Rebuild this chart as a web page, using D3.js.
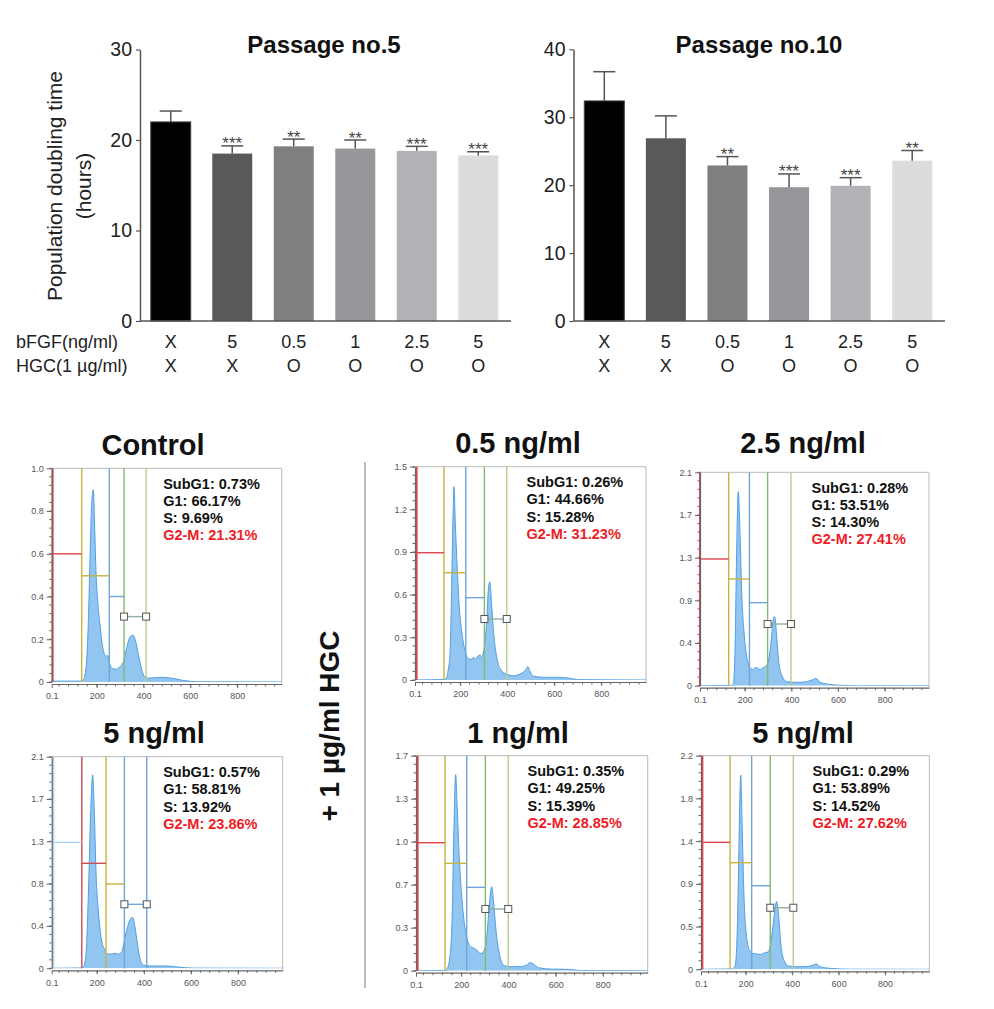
<!DOCTYPE html>
<html><head><meta charset="utf-8">
<script src="https://cdn.jsdelivr.net/npm/d3@7"></script>
<style>
body{margin:0;background:#fff;}
svg{display:block;}
text{font-family:"Liberation Sans",Arial,Helvetica,sans-serif;}
</style>
</head><body>
<svg id="c" width="994" height="1009"></svg>
<script>
// ---------------- DATA ----------------
const bfgfLabels = ["X", "5", "0.5", "1", "2.5", "5"];
const hgcLabels  = ["X", "X", "O", "O", "O", "O"];
const barColors  = ["#000000", "#595959", "#7f7f7f", "#97979b", "#b2b2b6", "#dcdcdc"];

const p5Values = [22.0, 18.5, 19.3, 19.05, 18.8, 18.3];
const p5Errors = [1.2, 0.85, 0.8, 0.95, 0.5, 0.4];
const p5Stars  = ["", "***", "**", "**", "***", "***"];
const p5Ticks  = [0, 10, 20, 30];

const p10Values = [32.4, 26.9, 22.9, 19.7, 19.9, 23.6];
const p10Errors = [4.3, 3.3, 1.3, 1.95, 1.2, 1.5];
const p10Stars  = ["", "", "**", "***", "***", "**"];
const p10Ticks  = [0, 10, 20, 30, 40];

const histTitles = ["Control", "0.5 ng/ml", "2.5 ng/ml", "5 ng/ml", "1 ng/ml", "5 ng/ml"];
const histMax = [1.0, 1.5, 2.1, 2.1, 1.7, 2.2];
const histYLabels = [
  ["0","0.2","0.4","0.6","0.8","1.0"],
  ["0","0.3","0.6","0.9","1.2","1.5"],
  ["0","0.4","0.9","1.3","1.7","2.1"],
  ["0","0.4","0.8","1.3","1.7","2.1"],
  ["0","0.3","0.7","1.0","1.3","1.7"],
  ["0","0.5","0.9","1.4","1.8","2.2"]
];
const histXTicks = [8, 200, 400, 600, 800];
const histXLabels = ["0.1", "200", "400", "600", "800"];

const statsControl = ["SubG1: 0.73%", "G1: 66.17%", "S: 9.69%", "G2-M: 21.31%"];
const stats05      = ["SubG1: 0.26%", "G1: 44.66%", "S: 15.28%", "G2-M: 31.23%"];
const stats25      = ["SubG1: 0.28%", "G1: 53.51%", "S: 14.30%", "G2-M: 27.41%"];
const stats5       = ["SubG1: 0.57%", "G1: 58.81%", "S: 13.92%", "G2-M: 23.86%"];
const stats1       = ["SubG1: 0.35%", "G1: 49.25%", "S: 15.39%", "G2-M: 28.85%"];
const stats5HGC    = ["SubG1: 0.29%", "G1: 53.89%", "S: 14.52%", "G2-M: 27.62%"];

// gate boundaries (channel) and marker heights
const gatesControl = [12, 136, 254, 317, 411];
const gates05      = [15, 131, 224, 303, 398];
const gates25      = [8, 131, 220, 298, 398];
const gates5       = [15, 136, 239, 317, 412];
const gates1       = [15, 131, 223, 302, 399];
const gates5HGC    = [14, 133, 226, 306, 405];
const levelsControl = [0.6, 0.497, 0.40, 0.306];
const levels05      = [0.895, 0.754, 0.579, 0.429];
const levels25      = [1.247, 1.05, 0.817, 0.607];
const levels5       = [1.25, 1.042, 0.837, 0.635];
const levels1       = [1.012, 0.849, 0.659, 0.488];
const levels5HGC    = [1.308, 1.098, 0.861, 0.634];

// DNA content histograms [channel, count]
const histControl = [[0,0.004],[130,0.004],[143,0.01],[155,0.07],[165,0.3],[172,0.6],[179,0.84],[186,0.9],[191,0.74],[197,0.52],[205,0.37],[214,0.27],[228,0.15],[240,0.12],[246,0.125],[257,0.08],[271,0.062],[285,0.06],[298,0.07],[314,0.094],[328,0.16],[342,0.21],[354,0.22],[364,0.2],[378,0.13],[392,0.06],[406,0.023],[420,0.018],[445,0.02],[475,0.022],[505,0.02],[535,0.015],[565,0.008],[600,0.003],[640,0.001],[990,0]];
const hist05 = [[0,0],[130,0.003],[140,0.01],[150,0.08],[157,0.19],[164,0.66],[171,1.24],[174,1.36],[179,1.12],[188,0.77],[196,0.52],[206,0.35],[220,0.21],[235,0.15],[249,0.145],[256,0.16],[263,0.145],[273,0.164],[284,0.176],[291,0.165],[301,0.21],[313,0.42],[321,0.66],[326,0.69],[334,0.52],[344,0.3],[355,0.164],[369,0.082],[398,0.04],[426,0.03],[454,0.042],[476,0.066],[488,0.094],[497,0.059],[511,0.028],[554,0.019],[610,0.019],[667,0.012],[700,0.002],[990,0]];
const hist25 = [[0,0],[140,0.003],[151,0.02],[158,0.32],[165,1.3],[172,1.91],[180,1.47],[187,0.91],[197,0.52],[208,0.29],[220,0.19],[234,0.16],[248,0.18],[265,0.16],[280,0.18],[294,0.2],[305,0.29],[315,0.48],[322,0.65],[328,0.68],[337,0.48],[345,0.25],[358,0.105],[380,0.04],[423,0.033],[465,0.04],[494,0.062],[505,0.072],[523,0.033],[565,0.013],[623,0.003],[680,0],[990,0]];
const hist5 = [[0,0],[135,0.003],[143,0.015],[154,0.15],[164,0.74],[174,1.57],[182,1.92],[189,1.57],[196,0.98],[206,0.58],[220,0.28],[235,0.18],[249,0.142],[263,0.142],[277,0.149],[291,0.14],[306,0.165],[315,0.25],[327,0.38],[341,0.48],[352,0.506],[362,0.41],[372,0.25],[383,0.1],[398,0.033],[426,0.023],[497,0.023],[554,0.01],[610,0.002],[990,0]];
const hist1 = [[0,0],[130,0.003],[138,0.01],[152,0.11],[162,0.48],[169,1.14],[176,1.55],[183,1.27],[192,0.875],[202,0.585],[213,0.374],[226,0.242],[240,0.19],[254,0.177],[268,0.158],[282,0.137],[293,0.15],[305,0.216],[315,0.427],[322,0.585],[329,0.664],[336,0.56],[347,0.32],[361,0.137],[378,0.045],[406,0.032],[449,0.032],[477,0.045],[491,0.063],[505,0.053],[527,0.024],[576,0.013],[661,0.01],[700,0.002],[990,0]];
const hist5HGC = [[0,0],[140,0.003],[154,0.03],[161,0.2],[169,0.95],[174,1.64],[179,2.0],[184,1.57],[193,0.75],[204,0.336],[216,0.2],[230,0.165],[247,0.158],[265,0.154],[283,0.17],[298,0.18],[308,0.27],[319,0.47],[328,0.645],[333,0.7],[341,0.577],[351,0.27],[362,0.113],[384,0.034],[419,0.027],[462,0.027],[491,0.045],[505,0.055],[520,0.027],[563,0.01],[649,0.001],[990,0]];

// ---------------- STYLE / LAYOUT ----------------
const svg = d3.select("#c");
svg.append("rect").attr("width", 994).attr("height", 1009).attr("fill", "#fff");

const gateColorsHGC = ["#e4444d", "#c9b23e", "#6ea6d8", "#84b86c", "#b3d08a"];
const gateColors5   = ["#acd5f2", "#cc4b55", "#c9b23e", "#6ea6d8", "#6ea6d8"];

function barChart(o) {
  const g = svg.append("g");
  const x = d3.scaleBand().domain(d3.range(o.values.length)).range([o.x0, o.x1])
    .paddingInner(0.35).paddingOuter(0.175);
  const y = d3.scaleLinear().domain([0, o.ymax]).range([321, o.ytop]);

  g.selectAll("rect.bar").data(o.values).join("rect").attr("class", "bar")
    .attr("x", (d, i) => x(i)).attr("width", x.bandwidth())
    .attr("y", d => y(d)).attr("height", d => y(0) - y(d))
    .attr("fill", (d, i) => barColors[i])
    .attr("stroke", (d, i) => i === 0 ? "#444" : "none").attr("stroke-width", 1);

  // error bars
  const eb = g.selectAll("g.eb").data(o.values).join("g").attr("class", "eb");
  eb.append("line")
    .attr("x1", (d, i) => x(i) + x.bandwidth() / 2).attr("x2", (d, i) => x(i) + x.bandwidth() / 2)
    .attr("y1", d => y(d)).attr("y2", (d, i) => y(d + o.errors[i]))
    .attr("stroke", "#555").attr("stroke-width", 1.5);
  eb.append("line")
    .attr("x1", (d, i) => x(i) + x.bandwidth() / 2 - 11).attr("x2", (d, i) => x(i) + x.bandwidth() / 2 + 11)
    .attr("y1", (d, i) => y(d + o.errors[i])).attr("y2", (d, i) => y(d + o.errors[i]))
    .attr("stroke", "#555").attr("stroke-width", 1.5);
  eb.append("text")
    .attr("x", (d, i) => x(i) + x.bandwidth() / 2)
    .attr("y", (d, i) => y(d + o.errors[i]) + 3.5)
    .attr("text-anchor", "middle").attr("font-size", 17).attr("fill", "#444")
    .text((d, i) => o.stars[i]);

  // y axis
  const ax = g.append("g").attr("transform", `translate(${o.x0},0)`)
    .call(d3.axisLeft(y).tickValues(o.ticks).tickFormat(d3.format("d")).tickSize(4).tickSizeOuter(0).tickPadding(4));
  ax.select(".domain").attr("stroke", "#555").attr("stroke-width", 1.5);
  ax.selectAll(".tick line").attr("stroke", "#555").attr("stroke-width", 1.2);
  ax.selectAll(".tick text").attr("font-size", 19.5).attr("fill", "#222")
    .attr("font-family", "'Liberation Sans',Arial,sans-serif");
  ax.attr("font-family", null);

  // x axis line
  g.append("line").attr("x1", o.x0).attr("x2", o.x1 + 2).attr("y1", y(0)).attr("y2", y(0))
    .attr("stroke", "#555").attr("stroke-width", 1.5);

  // category labels
  g.selectAll("text.r1").data(bfgfLabels).join("text").attr("class", "r1")
    .attr("x", (d, i) => x(i) + x.bandwidth() / 2).attr("y", 348)
    .attr("text-anchor", "middle").attr("font-size", 18).attr("fill", "#222").text(d => d);
  g.selectAll("text.r2").data(hgcLabels).join("text").attr("class", "r2")
    .attr("x", (d, i) => x(i) + x.bandwidth() / 2).attr("y", 372)
    .attr("text-anchor", "middle").attr("font-size", 18).attr("fill", "#222").text(d => d);

  g.append("text").attr("x", o.titleX).attr("y", 53).attr("text-anchor", "middle")
    .attr("font-size", 24).attr("font-weight", "bold").attr("fill", "#111").text(o.title);
}

barChart({values: p5Values, errors: p5Errors, stars: p5Stars, ticks: p5Ticks, ymax: 30,
  x0: 140, x1: 509, ytop: 49.5, title: "Passage no.5", titleX: 324});
barChart({values: p10Values, errors: p10Errors, stars: p10Stars, ticks: p10Ticks, ymax: 40,
  x0: 573.5, x1: 943, ytop: 49.3, title: "Passage no.10", titleX: 759});

// row labels and y-title
svg.append("text").attr("x", 16).attr("y", 348).attr("font-size", 18).attr("fill", "#222").text("bFGF(ng/ml)");
svg.append("text").attr("x", 16).attr("y", 372).attr("font-size", 18).attr("fill", "#222").text("HGC(1 µg/ml)");
const yt = svg.append("text").attr("transform", "translate(62,186) rotate(-90)")
  .attr("text-anchor", "middle").attr("font-size", 21).attr("fill", "#222");
yt.append("tspan").attr("x", 0).attr("y", 0).text("Population doubling time");
yt.append("tspan").attr("x", 0).attr("y", 29).text("(hours)");

// ---------------- HISTOGRAMS ----------------
const panels = [
  {title: histTitles[0], max: histMax[0], ylab: histYLabels[0], stats: statsControl, hist: histControl, gates: gatesControl, levels: levelsControl, colors: gateColorsHGC,
   l: 51.7, r: 281.7, t: 468.3, b: 682, tx: 153, ty: 455},
  {title: histTitles[1], max: histMax[1], ylab: histYLabels[1], stats: stats05, hist: hist05, gates: gates05, levels: levels05, colors: gateColorsHGC,
   l: 415, r: 646, t: 466.7, b: 680, tx: 518, ty: 453},
  {title: histTitles[2], max: histMax[2], ylab: histYLabels[2], stats: stats25, hist: hist25, gates: gates25, levels: levels25, colors: gateColorsHGC,
   l: 700, r: 929, t: 472.3, b: 685.7, tx: 803, ty: 453},
  {title: histTitles[3], max: histMax[3], ylab: histYLabels[3], stats: stats5, hist: hist5, gates: gates5, levels: levels5, colors: gateColors5,
   l: 51.7, r: 282.7, t: 756.7, b: 968.3, tx: 154, ty: 743},
  {title: histTitles[4], max: histMax[4], ylab: histYLabels[4], stats: stats1, hist: hist1, gates: gates1, levels: levels1, colors: gateColorsHGC,
   l: 416, r: 647.7, t: 755.7, b: 970.7, tx: 518, ty: 743},
  {title: histTitles[5], max: histMax[5], ylab: histYLabels[5], stats: stats5HGC, hist: hist5HGC, gates: gates5HGC, levels: levels5HGC, colors: gateColorsHGC,
   l: 701, r: 929.3, t: 755.7, b: 969.3, tx: 803, ty: 743}
];

panels.forEach((p, pi) => {
  const g = svg.append("g");
  const x = d3.scaleLinear().domain([8, 990]).range([p.l, p.r]);
  const y = d3.scaleLinear().domain([0, p.max]).range([p.b, p.t]);
  const cid = "clip" + pi;
  g.append("clipPath").attr("id", cid).append("rect")
    .attr("x", p.l).attr("y", p.t).attr("width", p.r - p.l).attr("height", p.b - p.t);

  // frame
  g.append("line").attr("x1", p.l).attr("x2", p.r).attr("y1", p.t).attr("y2", p.t).attr("stroke", "#bbb");
  g.append("line").attr("x1", p.r).attr("x2", p.r).attr("y1", p.t).attr("y2", p.b + 2).attr("stroke", "#bbb");

  // histogram
  const area = d3.area().x(d => x(d[0])).y0(y(0)).y1(d => y(d[1])).curve(d3.curveMonotoneX);
  const line = d3.line().x(d => x(d[0])).y(d => y(d[1])).curve(d3.curveMonotoneX);
  const hg = g.append("g").attr("clip-path", `url(#${cid})`);
  hg.append("path").datum(p.hist).attr("d", area).attr("fill", "#92c6f1");
  hg.append("path").datum(p.hist).attr("d", line).attr("fill", "none").attr("stroke", "#4f9ee2").attr("stroke-width", 1);

  // gates: vertical lines
  g.selectAll("line.gv").data(p.gates).join("line").attr("class", "gv")
    .attr("x1", d => x(d)).attr("x2", d => x(d)).attr("y1", p.t).attr("y2", p.b)
    .attr("stroke", (d, i) => p.colors[i]).attr("stroke-width", (d, i) => i === 0 ? 2 : 1.4);
  // horizontal markers
  const segs = p.levels.map((lv, i) => ({x1: p.gates[i], x2: p.gates[i + 1], y: lv, c: p.colors[i], last: i === p.levels.length - 1}));
  g.selectAll("line.gh").data(segs).join("line").attr("class", "gh")
    .attr("x1", d => x(d.x1)).attr("x2", d => x(d.x2)).attr("y1", d => y(d.y)).attr("y2", d => y(d.y))
    .attr("stroke", d => d.last ? (pi === 3 ? "#6ea6d8" : "#8fb39a") : d.c).attr("stroke-width", 1.4);
  const sq = segs[segs.length - 1];
  g.selectAll("rect.sq").data([sq.x1, sq.x2]).join("rect").attr("class", "sq")
    .attr("x", d => x(d) - 3.5).attr("y", y(sq.y) - 3.5).attr("width", 7).attr("height", 7)
    .attr("fill", "#fff").attr("stroke", "#555").attr("stroke-width", 1);

  // y axis
  const yTicks = p.ylab.map((s, i) => p.max * i / 5);
  const minor = d3.range(26).map(i => p.max * i / 25);
  g.selectAll("line.ym").data(minor).join("line").attr("class", "ym")
    .attr("x1", p.l - 2.5).attr("x2", p.l).attr("y1", d => y(d)).attr("y2", d => y(d)).attr("stroke", "#666");
  const ay = g.append("g").attr("transform", `translate(${p.l},0)`)
    .call(d3.axisLeft(y).tickValues(yTicks).tickFormat((d, i) => p.ylab[i]).tickSize(5).tickSizeOuter(0).tickPadding(3));
  ay.attr("font-family", null);
  ay.select(".domain").attr("stroke", "#666").attr("stroke-width", 1.2);
  ay.selectAll(".tick line").attr("stroke", "#666");
  ay.selectAll(".tick text").attr("font-size", 9).attr("fill", "#555");

  // x axis
  const xb = p.b + 2;
  const xminor = d3.range(40, 990, 40);
  g.selectAll("line.xm").data(xminor).join("line").attr("class", "xm")
    .attr("x1", d => x(d)).attr("x2", d => x(d)).attr("y1", xb).attr("y2", xb + 2.5).attr("stroke", "#666");
  const axb = g.append("g").attr("transform", `translate(0,${xb})`)
    .call(d3.axisBottom(x).tickValues(histXTicks).tickFormat((d, i) => histXLabels[i]).tickSize(4).tickSizeOuter(0).tickPadding(5));
  axb.attr("font-family", null);
  axb.select(".domain").attr("stroke", "#666").attr("stroke-width", 1.2);
  axb.selectAll(".tick line").attr("stroke", "#666");
  axb.selectAll(".tick text").attr("font-size", 9).attr("fill", "#555");

  // title
  g.append("text").attr("x", p.tx).attr("y", p.ty).attr("text-anchor", "middle")
    .attr("font-size", 29).attr("font-weight", "bold").attr("fill", "#111").text(p.title);

  // stats
  g.selectAll("text.st").data(p.stats).join("text").attr("class", "st")
    .attr("x", p.l + 111.5).attr("y", (d, i) => p.t + 20.5 + i * 17.2)
    .attr("font-size", 14.5).attr("font-weight", "bold")
    .attr("fill", (d, i) => i === 3 ? "#ee1c25" : "#111").text(d => d);
});

// divider and HGC label
svg.append("line").attr("x1", 365).attr("x2", 365).attr("y1", 462).attr("y2", 988)
  .attr("stroke", "#777").attr("stroke-width", 1);
svg.append("text").attr("transform", "translate(339,726) rotate(-90)").attr("text-anchor", "middle")
  .attr("font-size", 28).attr("font-weight", "bold").attr("fill", "#111").text("+ 1 µg/ml HGC");
</script>
</body></html>
